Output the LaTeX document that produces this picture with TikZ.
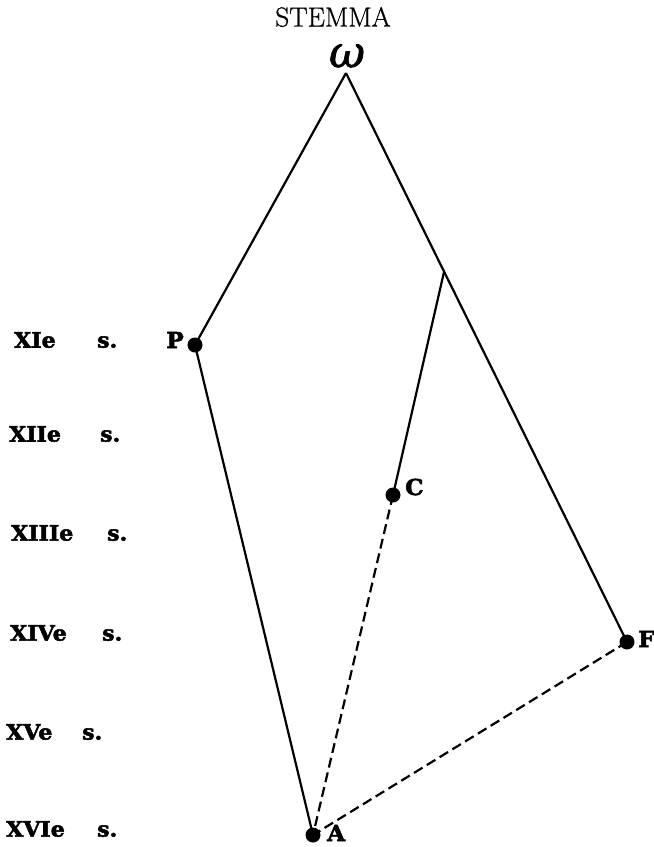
\documentclass[tikz,border=0pt]{standalone}
\usepackage{fontspec}
\newfontfamily\slabfont[FakeBold=2.5,FakeStretch=1.05]{DejaVu Serif Bold}
\newfontfamily\omegafont[FakeBold=1.5]{DejaVu Serif Italic}
\newfontfamily\titlefont[FakeBold=0.8]{Latin Modern Roman}
\begin{document}
\begin{tikzpicture}[x=1pt,y=-1pt,
  ms/.style={circle,fill=black,inner sep=0pt,minimum size=15pt},
  edge/.style={line width=2.2pt},
  lost/.style={line width=2.2pt,dash pattern=on 10pt off 5pt},
  sigle/.style={font=\slabfont\fontsize{22}{22}\selectfont,inner sep=0pt},
  century/.style={font=\slabfont\fontsize{21}{21}\selectfont,inner sep=0pt,anchor=west}]
\useasboundingbox (0,0) rectangle (654,847);

% title and archetype
\node[inner sep=0pt,font=\titlefont\fontsize{27.5}{28}\selectfont] (title) at (333,17) {STEMMA};
\node[inner sep=0pt,font=\omegafont\fontsize{44}{44}\selectfont] (omegalbl) at (347,56) {ω};
\coordinate (omega) at (346,73);
\coordinate (b) at (444,272);

% manuscripts
\node[ms] (P) at (195,345) {};
\node[ms] (C) at (393,495) {};
\node[ms] (F) at (627,642) {};
\node[ms] (A) at (313,835) {};

\node[sigle,anchor=east] (Pl) at (184,340) {P};
\node[sigle,anchor=west] (Cl) at (405,487) {C};
\node[sigle,anchor=west] (Fl) at (638,639) {F};
\node[sigle,anchor=west] (Al) at (327,833) {A};

% filiation
\draw[edge] (omega) -- (P.center);
\draw[edge] (omega) -- (F.center);
\draw[edge] (b) -- (C.center);
\draw[edge] (P.center) -- (A.center);
\draw[lost] (C.center) -- (A.center);
\draw[lost] (F.center) -- (A.center);

% centuries
\node[century] (c11) at (14,340) {\makebox[83pt][l]{XIe}s.};
\node[century] (c12) at (9,434) {\makebox[91pt][l]{XIIe}s.};
\node[century] (c13) at (11,533) {\makebox[96pt][l]{XIIIe}s.};
\node[century] (c14) at (10,633) {\makebox[92pt][l]{XIVe}s.};
\node[century] (c15) at (6,732) {\makebox[76pt][l]{XVe}s.};
\node[century] (c16) at (6,829) {\makebox[91pt][l]{XVIe}s.};
\end{tikzpicture}
\end{document}
